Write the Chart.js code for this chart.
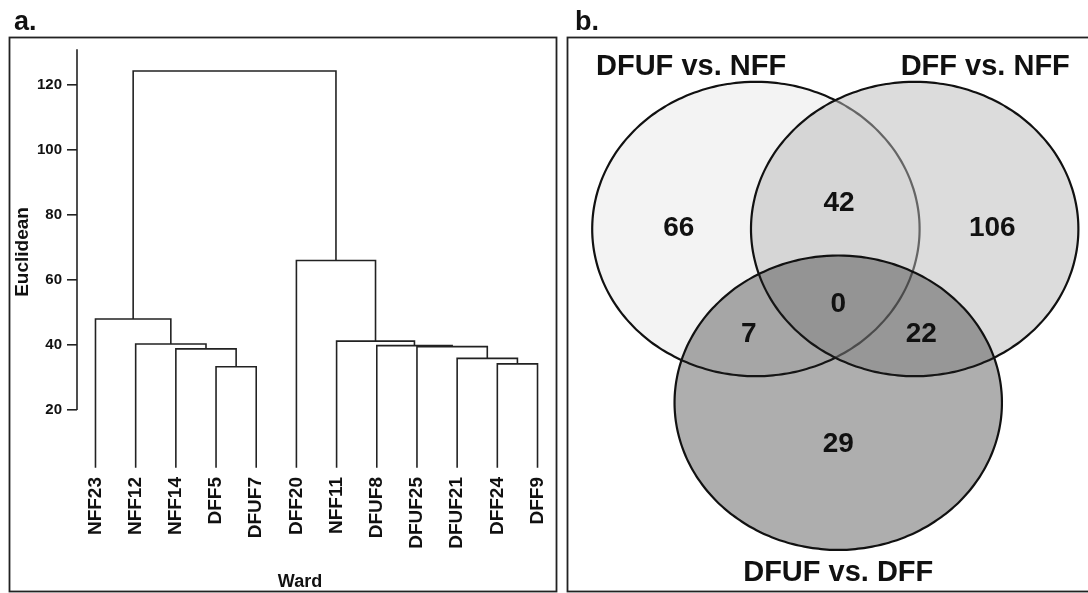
<!DOCTYPE html>
<html>
<head>
<meta charset="utf-8">
<script src="https://cdn.jsdelivr.net/npm/chart.js@4.4.1/dist/chart.umd.min.js"></script>
<style>
  html, body { margin: 0; padding: 0; background: #fff; }
  #wrap { position: relative; width: 1088px; height: 593px; overflow: hidden; }
  #dendro { position: absolute; left: 0; top: 0; }
  #venn { position: absolute; left: 562px; top: 0; }
</style>
</head>
<body>
<div id="wrap">
  <canvas id="dendro" width="562" height="593"></canvas>
  <canvas id="venn" width="526" height="593"></canvas>
</div>
<script>
// ---- panel a: Ward dendrogram ----
const leafNames = ["NFF23", "NFF12", "NFF14", "DFF5", "DFUF7", "DFF20", "NFF11", "DFUF8", "DFUF25", "DFUF21", "DFF24", "DFF9"];
const leafBottom = 2.2;
// hclust-style merges: negative = leaf (1-based), positive = earlier merge (1-based)
const mergeA = [-4, -11, -10, -3, -9, -8, -2, -7, -1, -6, 9];
const mergeB = [-5, -12, 2, 1, 3, 5, 4, 6, 7, 8, 10];
const mergeHeight = [33.3, 34.2, 35.9, 38.8, 39.5, 39.8, 40.3, 41.2, 48.0, 66.0, 124.3];
const yTicks = [20, 40, 60, 80, 100, 120];

// ---- panel b: Venn diagram ----
const setNames = ["DFUF vs. NFF", "DFF vs. NFF", "DFUF vs. DFF"];
const regionCounts = [66, 106, 29, 42, 7, 22, 0];

// layout (not data)
const circleX = [-0.485, 0.485, 0.018];
const circleY = [0.59, 0.59, -0.59];
const regionX = [-0.956, 0.959, 0.018, 0.023, -0.528, 0.525, 0.018];
const regionY = [0.597, 0.597, -0.87, 0.767, -0.128, -0.128, 0.08];
const setLabelX = [-0.881, 0.916, 0.018];
const setLabelY = [1.692, 1.692, -1.747];

const FONT = "'Liberation Sans', Arial, Helvetica, sans-serif";
const INK = "#111";

function nodeX(k) { return k < 0 ? -k : mergeX[k - 1]; }
function nodeH(k) { return k < 0 ? leafBottom : mergeHeight[k - 1]; }
const mergeX = [];
mergeA.forEach((a, i) => mergeX.push((nodeX(a) + nodeX(mergeB[i])) / 2));

const dendroSets = mergeA.map((a, i) => {
  const b = mergeB[i], h = mergeHeight[i];
  return {
    data: [{x: nodeX(a), y: nodeH(a)}, {x: nodeX(a), y: h}, {x: nodeX(b), y: h}, {x: nodeX(b), y: nodeH(b)}],
    showLine: true, borderColor: "#222", borderWidth: 1.6, pointRadius: 0, fill: false, tension: 0
  };
});

const dendroDeco = {
  id: "dendroDeco",
  afterDraw(chart) {
    const ctx = chart.ctx, y = chart.scales.y, area = chart.chartArea;
    ctx.save();
    ctx.strokeStyle = "#222";
    ctx.lineWidth = 1.6;
    ctx.beginPath();
    ctx.moveTo(area.left, y.getPixelForValue(yTicks[0]));
    ctx.lineTo(area.left, area.top);
    ctx.stroke();
    ctx.lineWidth = 1.8;
    ctx.strokeRect(9.5, 37.5, 547, 554);
    ctx.fillStyle = INK;
    ctx.font = "bold 27px " + FONT;
    ctx.textAlign = "left";
    ctx.textBaseline = "alphabetic";
    ctx.fillText("a.", 14, 30);
    ctx.font = "bold 18px " + FONT;
    ctx.textAlign = "center";
    ctx.textBaseline = "middle";
    ctx.fillText("Ward", 300, 582);
    ctx.font = "bold 19px " + FONT;
    ctx.translate(23, 252);
    ctx.rotate(-Math.PI / 2);
    ctx.fillText("Euclidean", 0, 0);
    ctx.restore();
  }
};

new Chart("dendro", {
  type: "scatter",
  data: { datasets: dendroSets },
  options: {
    responsive: false,
    animation: false,
    events: [],
    layout: { padding: { top: 49.25, right: 6.4, left: 0, bottom: 0 } },
    plugins: { legend: { display: false }, tooltip: { enabled: false } },
    scales: {
      x: {
        type: "linear", min: 0.54, max: 12.45,
        grid: { display: false, drawTicks: false },
        border: { display: false },
        afterBuildTicks: s => { s.ticks = leafNames.map((n, i) => ({ value: i + 1 })); },
        ticks: {
          autoSkip: false, minRotation: 90, maxRotation: 90, padding: 2, color: INK,
          font: { family: FONT, size: 19, weight: "bold" },
          callback: v => leafNames[v - 1]
        },
        afterFit: s => { s.height = 118; s.paddingLeft = 0; s.paddingRight = 0; }
      },
      y: {
        min: 0, max: 131,
        grid: { drawOnChartArea: false, drawTicks: true, tickLength: 10, color: "#222", lineWidth: 1.6 },
        border: { display: false },
        afterBuildTicks: s => { s.ticks = yTicks.map(v => ({ value: v })); },
        ticks: { padding: 5, color: INK, font: { family: FONT, size: 15, weight: "bold" } },
        afterFit: s => { s.width = 77; }
      }
    }
  },
  plugins: [dendroDeco]
});

// ---- Venn ----
function circlePoints(cx, cy) {
  const pts = [];
  for (let k = 0; k <= 180; k++) {
    const t = k / 180 * 2 * Math.PI;
    pts.push({ x: cx + Math.cos(t), y: cy + Math.sin(t) });
  }
  return pts;
}
const circleFill = ["rgb(243,243,243)", "rgba(185,185,185,0.5)", "rgba(30,30,30,0.36)"];
const vennSets = setNames.map((name, i) => ({
  label: name,
  data: circlePoints(circleX[i], circleY[i]),
  showLine: true, pointRadius: 0, tension: 0.3,
  borderColor: INK, borderWidth: 2.2,
  backgroundColor: circleFill[i],
  fill: "shape",
  order: 3 - i
}));

const vennDeco = {
  id: "vennDeco",
  afterDraw(chart) {
    const ctx = chart.ctx, sx = chart.scales.x, sy = chart.scales.y;
    ctx.save();
    ctx.fillStyle = INK;
    ctx.textAlign = "center";
    ctx.textBaseline = "middle";
    ctx.font = "bold 28px " + FONT;
    regionCounts.forEach((c, i) => {
      ctx.fillText(String(c), sx.getPixelForValue(regionX[i]), sy.getPixelForValue(regionY[i]));
    });
    ctx.font = "bold 29px " + FONT;
    setNames.forEach((n, i) => {
      ctx.fillText(n, sx.getPixelForValue(setLabelX[i]), sy.getPixelForValue(setLabelY[i]));
    });
    ctx.strokeStyle = "#222";
    ctx.lineWidth = 1.8;
    ctx.strokeRect(5.5, 37.5, 540, 554);
    ctx.font = "bold 27px " + FONT;
    ctx.textAlign = "left";
    ctx.textBaseline = "alphabetic";
    ctx.fillText("b.", 13, 30);
    ctx.restore();
  }
};

new Chart("venn", {
  type: "scatter",
  data: { datasets: vennSets },
  options: {
    responsive: false,
    animation: false,
    events: [],
    layout: { padding: 0 },
    plugins: { legend: { display: false }, tooltip: { enabled: false } },
    scales: {
      x: { display: false, min: -1.6695, max: 1.5437 },
      y: { display: false, min: -1.8829, max: 2.1457 }
    }
  },
  plugins: [vennDeco]
});
</script>
</body>
</html>
